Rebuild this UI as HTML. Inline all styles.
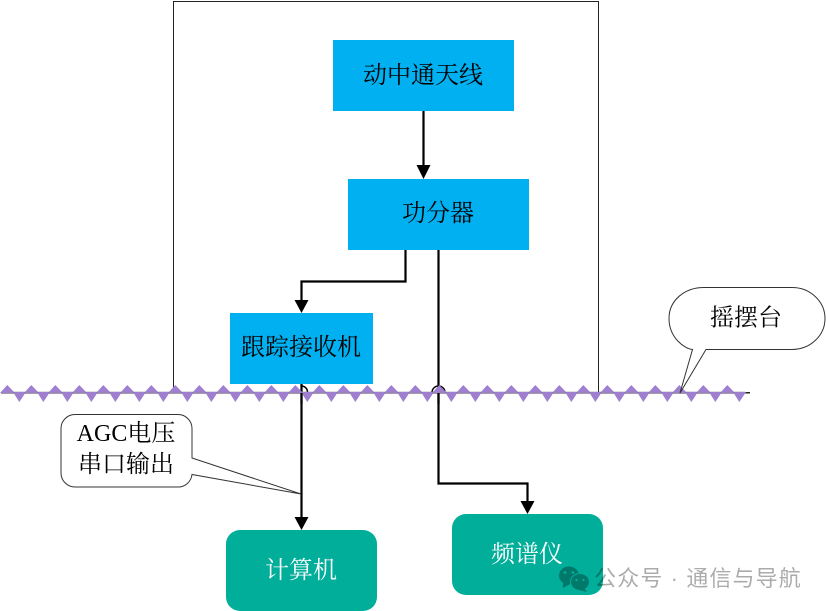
<!DOCTYPE html>
<html>
<head>
<meta charset="utf-8">
<style>
html,body{margin:0;padding:0;background:#fff;width:826px;height:611px;overflow:hidden}
svg{display:block}
text{font-family:"Liberation Serif","Noto Serif CJK SC",serif;font-size:24px;text-anchor:middle}
</style>
</head>
<body>
<svg width="826" height="611" viewBox="0 0 826 611" xmlns="http://www.w3.org/2000/svg">
<rect x="173.500" y="1.500" width="425" height="391" fill="none" stroke="#222" stroke-width="1"/>
<rect x="333" y="40" width="181" height="71" fill="#00b0f0"/>
<rect x="348" y="179" width="181" height="71" fill="#00b0f0"/>
<rect x="230" y="313" width="143" height="71" fill="#00b0f0"/>
<rect x="226" y="530" width="151" height="81" rx="14" fill="#00ae9a"/>
<rect x="452" y="514" width="151" height="81" rx="14" fill="#00ae9a"/>

<g fill="none" stroke="#000" stroke-width="2.200">
<path d="M423.500 111V167"/>
<path d="M405.500 250V281.500H301.500V301"/>
<path d="M438.500 250V483.500H527.500V502"/>
<path d="M301.500 384V518"/>
<path d="M432 392.500a6.500 6.500 0 0 1 13 0" stroke-width="1.500"/>
<path d="M301.500 386a6 6 0 0 1 6 6" stroke-width="1.500"/>
</g>
<g fill="#000">
<path d="M416.500 165H430.500L423.500 179Z"/>
<path d="M294.500 300H308.500L301.500 313Z"/>
<path d="M520.500 501H534.500L527.500 514Z"/>
<path d="M294.500 517H308.500L301.500 530Z"/>
</g>

<path d="M1 392.700H750" stroke="#222" stroke-width="1.500"/>
<path d="M1 392.700H745" stroke="#7d7d7d" stroke-width="2"/>
<g fill="#9e7fd0">
<path d="M0 393 L7.300 385 L15 393Z M13 392 L19.300 402 L26 392Z M24 393 L31.300 385 L39 393Z M37 392 L43.300 402 L50 392Z M48 393 L55.300 385 L63 393Z M61 392 L67.300 402 L74 392Z M72 393 L79.300 385 L87 393Z M85 392 L91.300 402 L98 392Z M96 393 L103.300 385 L111 393Z M109 392 L115.300 402 L122 392Z M120 393 L127.300 385 L135 393Z M133 392 L139.300 402 L146 392Z M144 393 L151.300 385 L159 393Z M157 392 L163.300 402 L170 392Z M168 393 L175.300 385 L183 393Z M181 392 L187.300 402 L194 392Z M192 393 L199.300 385 L207 393Z M205 392 L211.300 402 L218 392Z M216 393 L223.300 385 L231 393Z M229 392 L235.300 402 L242 392Z M240 393 L247.300 385 L255 393Z M253 392 L259.300 402 L266 392Z M264 393 L271.300 385 L279 393Z M277 392 L283.300 402 L290 392Z M288 393 L295.300 385 L303 393Z M301 392 L307.300 402 L314 392Z M312 393 L319.300 385 L327 393Z M325 392 L331.300 402 L338 392Z M336 393 L343.300 385 L351 393Z M349 392 L355.300 402 L362 392Z M360 393 L367.300 385 L375 393Z M373 392 L379.300 402 L386 392Z M384 393 L391.300 385 L399 393Z M397 392 L403.300 402 L410 392Z M408 393 L415.300 385 L423 393Z M421 392 L427.300 402 L434 392Z M432 393 L439.300 385 L447 393Z M445 392 L451.300 402 L458 392Z M456 393 L463.300 385 L471 393Z M469 392 L475.300 402 L482 392Z M480 393 L487.300 385 L495 393Z M493 392 L499.300 402 L506 392Z M504 393 L511.300 385 L519 393Z M517 392 L523.300 402 L530 392Z M528 393 L535.300 385 L543 393Z M541 392 L547.300 402 L554 392Z M552 393 L559.300 385 L567 393Z M565 392 L571.300 402 L578 392Z M576 393 L583.300 385 L591 393Z M589 392 L595.300 402 L602 392Z M600 393 L607.300 385 L615 393Z M613 392 L619.300 402 L626 392Z M624 393 L631.300 385 L639 393Z M637 392 L643.300 402 L650 392Z M648 393 L655.300 385 L663 393Z M661 392 L667.300 402 L674 392Z M672 393 L679.300 385 L687 393Z M685 392 L691.300 402 L698 392Z M696 393 L703.300 385 L711 393Z M709 392 L715.300 402 L722 392Z M720 393 L727.300 385 L735 393Z M733 392 L739.300 402 L746 392Z"/>
</g>
<path d="M301.500 393V404" stroke="#000" stroke-width="2.200" fill="none"/>
<path d="M438.500 393V404" stroke="#000" stroke-width="2.200" fill="none"/>

<path d="M75 414.500H178a14 14 0 0 1 14 14V458L301 494L192 474.500a14 14 0 0 1 -14 12.500H75a14 14 0 0 1 -14 -14V428.500a14 14 0 0 1 14 -14Z" fill="#fff" stroke="#333" stroke-width="1"/>
<path d="M704 287.500H792a33 31 0 0 1 0 62H706L680 393L692.500 349.500C685 349 669 338 669 318.500C669 300 685 287.500 704 287.500Z" fill="#fff" stroke="#333" stroke-width="1"/>

<text x="423" y="83" fill="#000">动中通天线</text>
<text x="438" y="221" fill="#000">功分器</text>
<text x="301" y="355" fill="#000">跟踪接收机</text>
<text x="301" y="578" fill="#fff">计算机</text>
<text x="527" y="562" fill="#fff">频谱仪</text>
<text x="746" y="325.500" fill="#000">摇摆台</text>
<text x="126" y="441" fill="#000">AGC电压</text>
<text x="126" y="472" fill="#000">串口输出</text>

<g fill="#00796b">
<ellipse cx="569" cy="575.500" rx="10" ry="9"/>
<path d="M563 582L563 588L570 584Z"/>
<ellipse cx="580" cy="582" rx="10" ry="9" fill="#00ae9a"/>
<ellipse cx="580" cy="582" rx="9" ry="8"/>
<path d="M584 588L587 592L579 590Z"/>
</g>
<g fill="#00ae9a">
<circle cx="565" cy="572.500" r="1.400"/>
<circle cx="573" cy="572.500" r="1.400"/>
<circle cx="576.500" cy="580" r="1.200"/>
<circle cx="583.500" cy="580" r="1.200"/>
</g>
<text x="698" y="586" style="font-family:'Liberation Sans','Noto Sans CJK SC',sans-serif;font-size:22px;letter-spacing:1.100px" fill="#000" fill-opacity=".33">公众号 · 通信与导航</text>
</svg>
</body>
</html>
